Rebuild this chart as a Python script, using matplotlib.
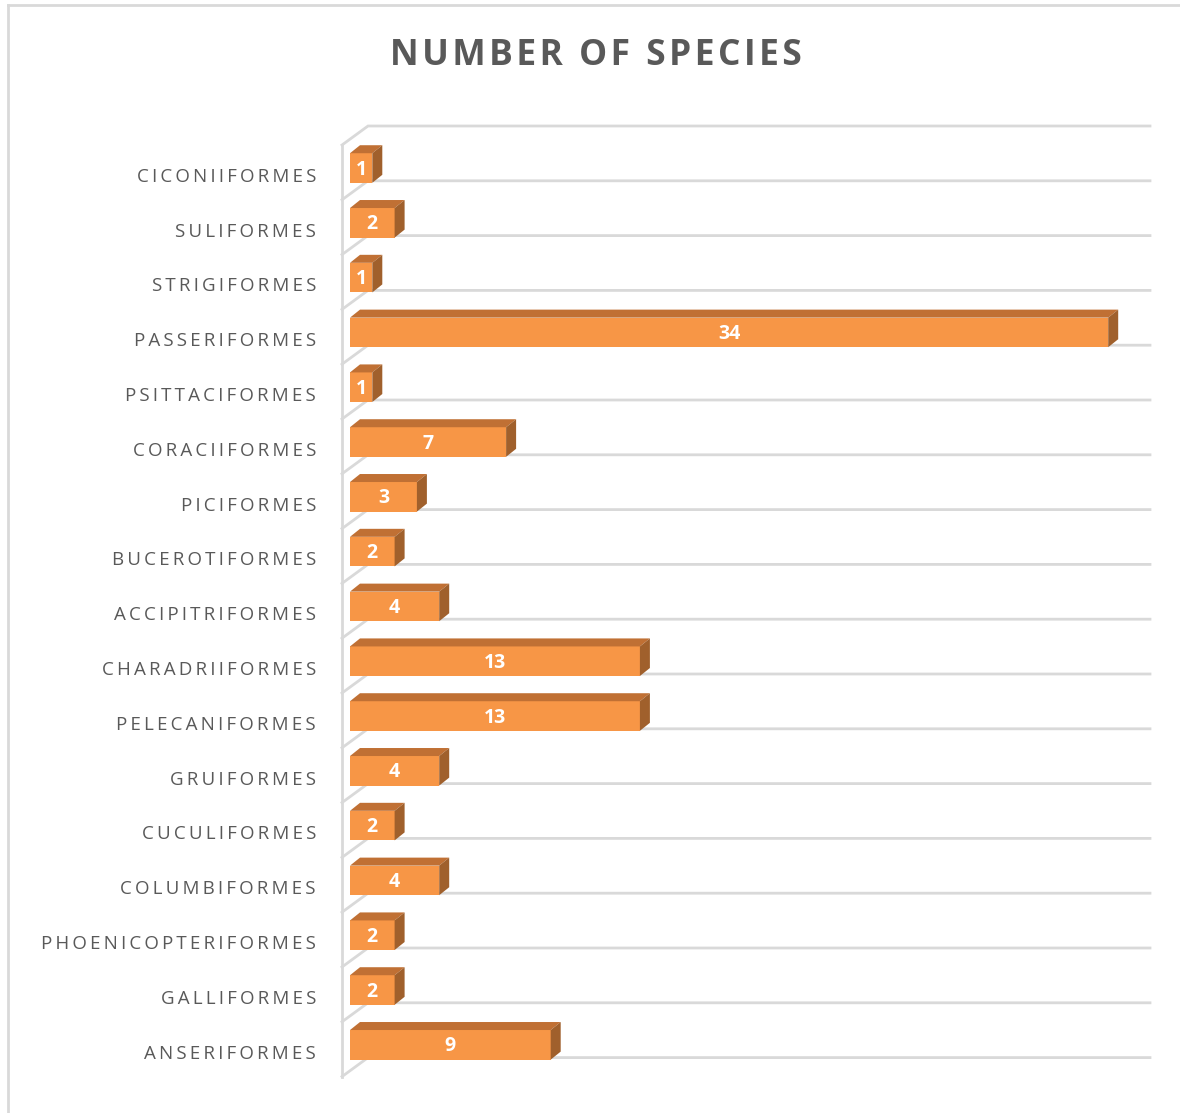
import matplotlib.pyplot as plt
from matplotlib.patches import Polygon
from matplotlib.lines import Line2D

orders = ['CICONIIFORMES', 'SULIFORMES', 'STRIGIFORMES', 'PASSERIFORMES',
          'PSITTACIFORMES', 'CORACIIFORMES', 'PICIFORMES', 'BUCEROTIFORMES',
          'ACCIPITRIFORMES', 'CHARADRIIFORMES', 'PELECANIFORMES', 'GRUIFORMES',
          'CUCULIFORMES', 'COLUMBIFORMES', 'PHOENICOPTERIFORMES', 'GALLIFORMES',
          'ANSERIFORMES']
species = [1, 2, 1, 34, 1, 7, 3, 2, 4, 13, 13, 4, 2, 4, 2, 2, 9]
title = 'NUMBER OF SPECIES'

front_col = '#F79646'
top_col = '#C07034'
side_col = '#A0602C'
grid_col = '#D9D9D9'
text_col = '#595959'


def spaced(s, sep='\u2009'):
    # fake letter spacing
    return sep.join(s)


W, H = 1180, 1113
fig = plt.figure(figsize=(W / 100, H / 100), dpi=100)

# pixel geometry of the plot box
px0, px1, py0, py1 = 330, 1160, 115, 1090
unit_x = 22.3
unit_y = 54.8
x_zero = 350
y_first = 172.4
ax = fig.add_axes([px0 / W, 1 - py1 / H, (px1 - px0) / W, (py1 - py0) / H])
ax.set_xlim((px0 - x_zero) / unit_x, (px1 - x_zero) / unit_x)
ax.set_ylim((py1 - y_first) / unit_y, (py0 - y_first) / unit_y)
ax.axis('off')

n = len(orders)
wall_x = -8 / unit_x
depth_x = 26 / unit_x
depth_y = -19 / unit_y
grid_end = (1150 - x_zero) / unit_x

# walls and gridlines
for k in range(n + 1):
    yb = k - 0.5
    ax.plot([wall_x, wall_x + depth_x, grid_end], [yb, yb + depth_y, yb + depth_y],
            color=grid_col, lw=2, zorder=1, solid_joinstyle='miter')
ax.plot([wall_x, wall_x], [-0.5, n - 0.5], color=grid_col, lw=2, zorder=1)

# 3d-looking bars
bh = 0.54
boff = -0.08
bdx = 10 / unit_x
bdy = -8 / unit_y
for i, v in enumerate(species):
    yc = i + boff
    yt = yc - bh / 2
    yb = yc + bh / 2
    ax.barh(yc, v, height=bh, left=0, color=front_col, zorder=3)
    ax.add_patch(Polygon([(0, yt), (v, yt), (v + bdx, yt + bdy), (bdx, yt + bdy)],
                         closed=True, facecolor=top_col, edgecolor='none', zorder=3))
    ax.add_patch(Polygon([(v, yt), (v, yb), (v + bdx, yb + bdy), (v + bdx, yt + bdy)],
                         closed=True, facecolor=side_col, edgecolor='none', zorder=3))
    ax.text(v / 2, yc + 0.03, str(v), color='white', fontsize=14, fontweight='bold',
            family='Open Sans', ha='center', va='center', zorder=4)
    ax.text((316 - x_zero) / unit_x, i + 0.08, spaced(orders[i]), color=text_col,
            fontsize=13.5, family='Open Sans', ha='right', va='center', clip_on=False)

fig.text(596 / W, 1 - 56 / H, spaced(title, '\u200a'), color=text_col, fontsize=25.5,
         fontweight='bold', family='Open Sans', ha='center', va='center')

# outer frame of the chart area
fig.add_artist(Line2D([8 / W, 8 / W], [0, 1 - 5 / H], color=grid_col, lw=2))
fig.add_artist(Line2D([8 / W, 1], [1 - 5 / H, 1 - 5 / H], color=grid_col, lw=2))

fig.savefig('out.png', dpi=100)
